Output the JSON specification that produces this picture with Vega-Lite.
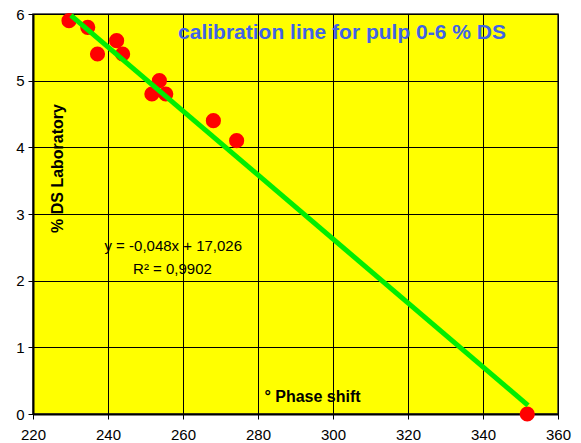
{
  "$schema": "https://vega.github.io/schema/vega-lite/v6.json",
  "width": 525,
  "height": 400,
  "autosize": "none",
  "padding": {"left": 33, "top": 14, "right": 23, "bottom": 29},
  "background": "#FFFFFF",
  "config": {
    "font": "Liberation Sans",
    "view": {"fill": "#FFFF00", "stroke": "#333333", "strokeWidth": 1.5},
    "axis": {
      "grid": true,
      "gridColor": "#000000",
      "gridWidth": 1,
      "gridOpacity": 1,
      "domainColor": "#000000",
      "domainWidth": 2,
      "tickColor": "#000000",
      "tickSize": 5,
      "labelFlush": false,
      "labelFont": "Liberation Sans",
      "labelFontSize": 15,
      "labelColor": "#000000",
      "titleFont": "Liberation Sans",
      "titleFontSize": 16,
      "titleFontWeight": "bold",
      "titleColor": "#000000"
    }
  },
  "datasets": {
    "points": [
      {"phase": 229.6, "ds": 5.9},
      {"phase": 234.6, "ds": 5.8},
      {"phase": 237.2, "ds": 5.4},
      {"phase": 242.3, "ds": 5.6},
      {"phase": 243.9, "ds": 5.4},
      {"phase": 253.7, "ds": 5.0},
      {"phase": 251.7, "ds": 4.8},
      {"phase": 255.4, "ds": 4.8},
      {"phase": 268.1, "ds": 4.4},
      {"phase": 274.3, "ds": 4.1},
      {"phase": 351.8, "ds": 0.0}
    ],
    "fit": [
      {"phase": 230.1, "ds": 5.98},
      {"phase": 352.0, "ds": 0.13}
    ]
  },
  "layer": [
    {
      "data": {"name": "points"},
      "mark": {"type": "point", "filled": true, "shape": "circle", "size": 230, "color": "#FF0000", "opacity": 1},
      "encoding": {
        "x": {
          "field": "phase", "type": "quantitative",
          "scale": {"domain": [220, 360], "nice": false, "zero": false},
          "axis": {
            "values": [220, 240, 260, 280, 300, 320, 340, 360],
            "format": "d",
            "labelPadding": 8,
            "title": "° Phase shift",
            "titleX": 279,
            "titleY": -18,
            "titleAlign": "center",
            "titleBaseline": "middle"
          }
        },
        "y": {
          "field": "ds", "type": "quantitative",
          "scale": {"domain": [0, 6], "nice": false},
          "axis": {
            "values": [0, 1, 2, 3, 4, 5, 6],
            "format": "d",
            "labelPadding": 4,
            "title": "% DS Laboratory",
            "titleX": 24,
            "titleY": 154,
            "titleAngle": -90,
            "titleAlign": "center",
            "titleBaseline": "middle"
          }
        }
      }
    },
    {
      "data": {"name": "fit"},
      "mark": {"type": "line", "color": "#00EE00", "strokeWidth": 5, "strokeCap": "butt"},
      "encoding": {
        "x": {"field": "phase", "type": "quantitative"},
        "y": {"field": "ds", "type": "quantitative"}
      }
    },
    {
      "data": {"values": [{"label": "calibration line for pulp 0-6 % DS"}]},
      "mark": {"type": "text", "color": "#3F63E6", "fontSize": 21, "fontWeight": "bold", "align": "center", "baseline": "middle"},
      "encoding": {
        "x": {"datum": 302.4, "type": "quantitative"},
        "y": {"datum": 5.72, "type": "quantitative"},
        "text": {"field": "label"}
      }
    },
    {
      "data": {"values": [{"label": "y = -0,048x + 17,026"}]},
      "mark": {"type": "text", "color": "#000000", "fontSize": 15, "align": "center", "baseline": "middle"},
      "encoding": {
        "x": {"datum": 257.4, "type": "quantitative"},
        "y": {"datum": 2.52, "type": "quantitative"},
        "text": {"field": "label"}
      }
    },
    {
      "data": {"values": [{"label": "R² = 0,9902"}]},
      "mark": {"type": "text", "color": "#000000", "fontSize": 15, "align": "center", "baseline": "middle"},
      "encoding": {
        "x": {"datum": 257.2, "type": "quantitative"},
        "y": {"datum": 2.17, "type": "quantitative"},
        "text": {"field": "label"}
      }
    }
  ]
}
